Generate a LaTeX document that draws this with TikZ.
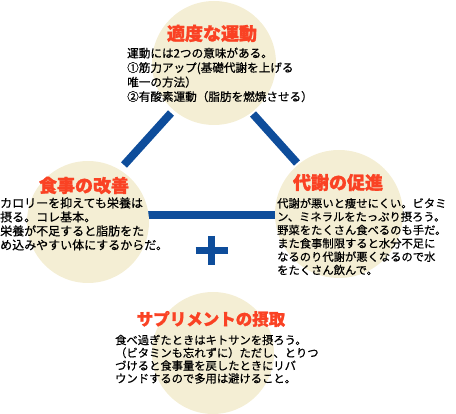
\documentclass[tikz,border=0pt]{standalone}
\usepackage{fontspec}
\setmainfont{Noto Sans CJK JP}
\newfontfamily\bodyfont[FakeBold=0.6]{Noto Sans CJK JP}
\newfontfamily\titlefont[BoldFeatures={FakeBold=1.4}]{Noto Sans CJK JP}
\definecolor{cream}{RGB}{244,238,212}
\definecolor{lblue}{RGB}{14,77,155}
\definecolor{tred}{RGB}{250,66,36}
\begin{document}
\begin{tikzpicture}[x=1pt,y=-1pt,
  blob/.style={circle, fill=cream, inner sep=0pt},
  ttl/.style={text=tred, inner sep=0pt, font=\titlefont\fontsize{18}{20}\selectfont\bfseries},
  body/.style={anchor=base west, inner sep=0pt, font=\bodyfont\fontsize{11.3}{13}\selectfont},
  link/.style={draw=lblue, line width=8pt},
  plusbar/.style={draw=lblue, line width=7.5pt}]
\useasboundingbox (0,0) rectangle (456,414);
\clip (0,0) rectangle (456,414);
% connectors (behind circles)
\coordinate (a1) at (124,165);
\coordinate (a2) at (171,113);
\coordinate (b1) at (253,114);
\coordinate (b2) at (297,163);
\coordinate (c1) at (146,215);
\coordinate (c2) at (275,215);
\draw[link] (a1) -- (a2);
\draw[link] (b1) -- (b2);
\draw[link] (c1) -- (c2);
% circles
\node[blob, minimum size=124pt] (cT) at (214,63) {};
\node[blob, minimum size=122pt] (cL) at (88,222) {};
\node[blob, minimum size=128pt] (cR) at (339,214) {};
\node[blob, minimum size=122pt] (cB) at (213,353) {};
% plus sign
\draw[plusbar] (195.5,250.5) -- (227.5,250.5);
\draw[plusbar] (211.5,236) -- (211.5,265.5);
% titles
\node[ttl] (tT) at (212,33.5) {適度な運動};
\node[ttl] (tL) at (84,185.5) {食事の改善};
\node[ttl] (tR) at (338,182.5) {代謝の促進};
\node[ttl, font=\titlefont\fontsize{16.5}{19}\selectfont\bfseries] (tB) at (211,319) {サプリメントの摂取};
% top body
\node[body, font=\bodyfont\fontsize{11.6}{13}\selectfont] (t1) at (127,57.5) {運動には2つの意味がある。};
\node[body, font=\bodyfont\fontsize{11.6}{13}\selectfont] (t2) at (127,72) {①筋力アップ(基礎代謝を上げる};
\node[body, font=\bodyfont\fontsize{11.6}{13}\selectfont] (t3) at (127,86.5) {唯一の方法）};
\node[body, font=\bodyfont\fontsize{11.6}{13}\selectfont] (t4) at (127,101) {②有酸素運動（脂肪を燃焼させる）};
% left body
\node[body, font=\bodyfont\fontsize{12}{14}\selectfont] (l1) at (0,207.5) {カロリーを抑えても栄養は};
\node[body, font=\bodyfont\fontsize{12}{14}\selectfont] (l2) at (0,221.5) {摂る。コレ基本。};
\node[body, font=\bodyfont\fontsize{12}{14}\selectfont] (l3) at (0,235.5) {栄養が不足すると脂肪をた};
\node[body, font=\bodyfont\fontsize{12}{14}\selectfont] (l4) at (0,249.5) {め込みやすい体にするからだ。};
% right body
\node[body] (r1) at (277,207.6) {代謝が悪いと痩せにくい。ビタミ};
\node[body] (r2) at (277,220.95) {ン、ミネラルをたっぷり摂ろう。};
\node[body] (r3) at (277,234.3) {野菜をたくさん食べるのも手だ。};
\node[body] (r4) at (277,247.65) {また食事制限すると水分不足に};
\node[body] (r5) at (277,261) {なるのり代謝が悪くなるので水};
\node[body] (r6) at (277,274.35) {をたくさん飲んで。};
% bottom body
\node[body] (b1t) at (115,344.3) {食べ過ぎたときはキトサンを摂ろう。};
\node[body] (b2t) at (115,357.1) {（ビタミンも忘れずに）ただし、とりつ};
\node[body] (b3t) at (115,369.9) {づけると食事量を戻したときにリバ};
\node[body] (b4t) at (115,382.7) {ウンドするので多用は避けること。};
\end{tikzpicture}
\end{document}
